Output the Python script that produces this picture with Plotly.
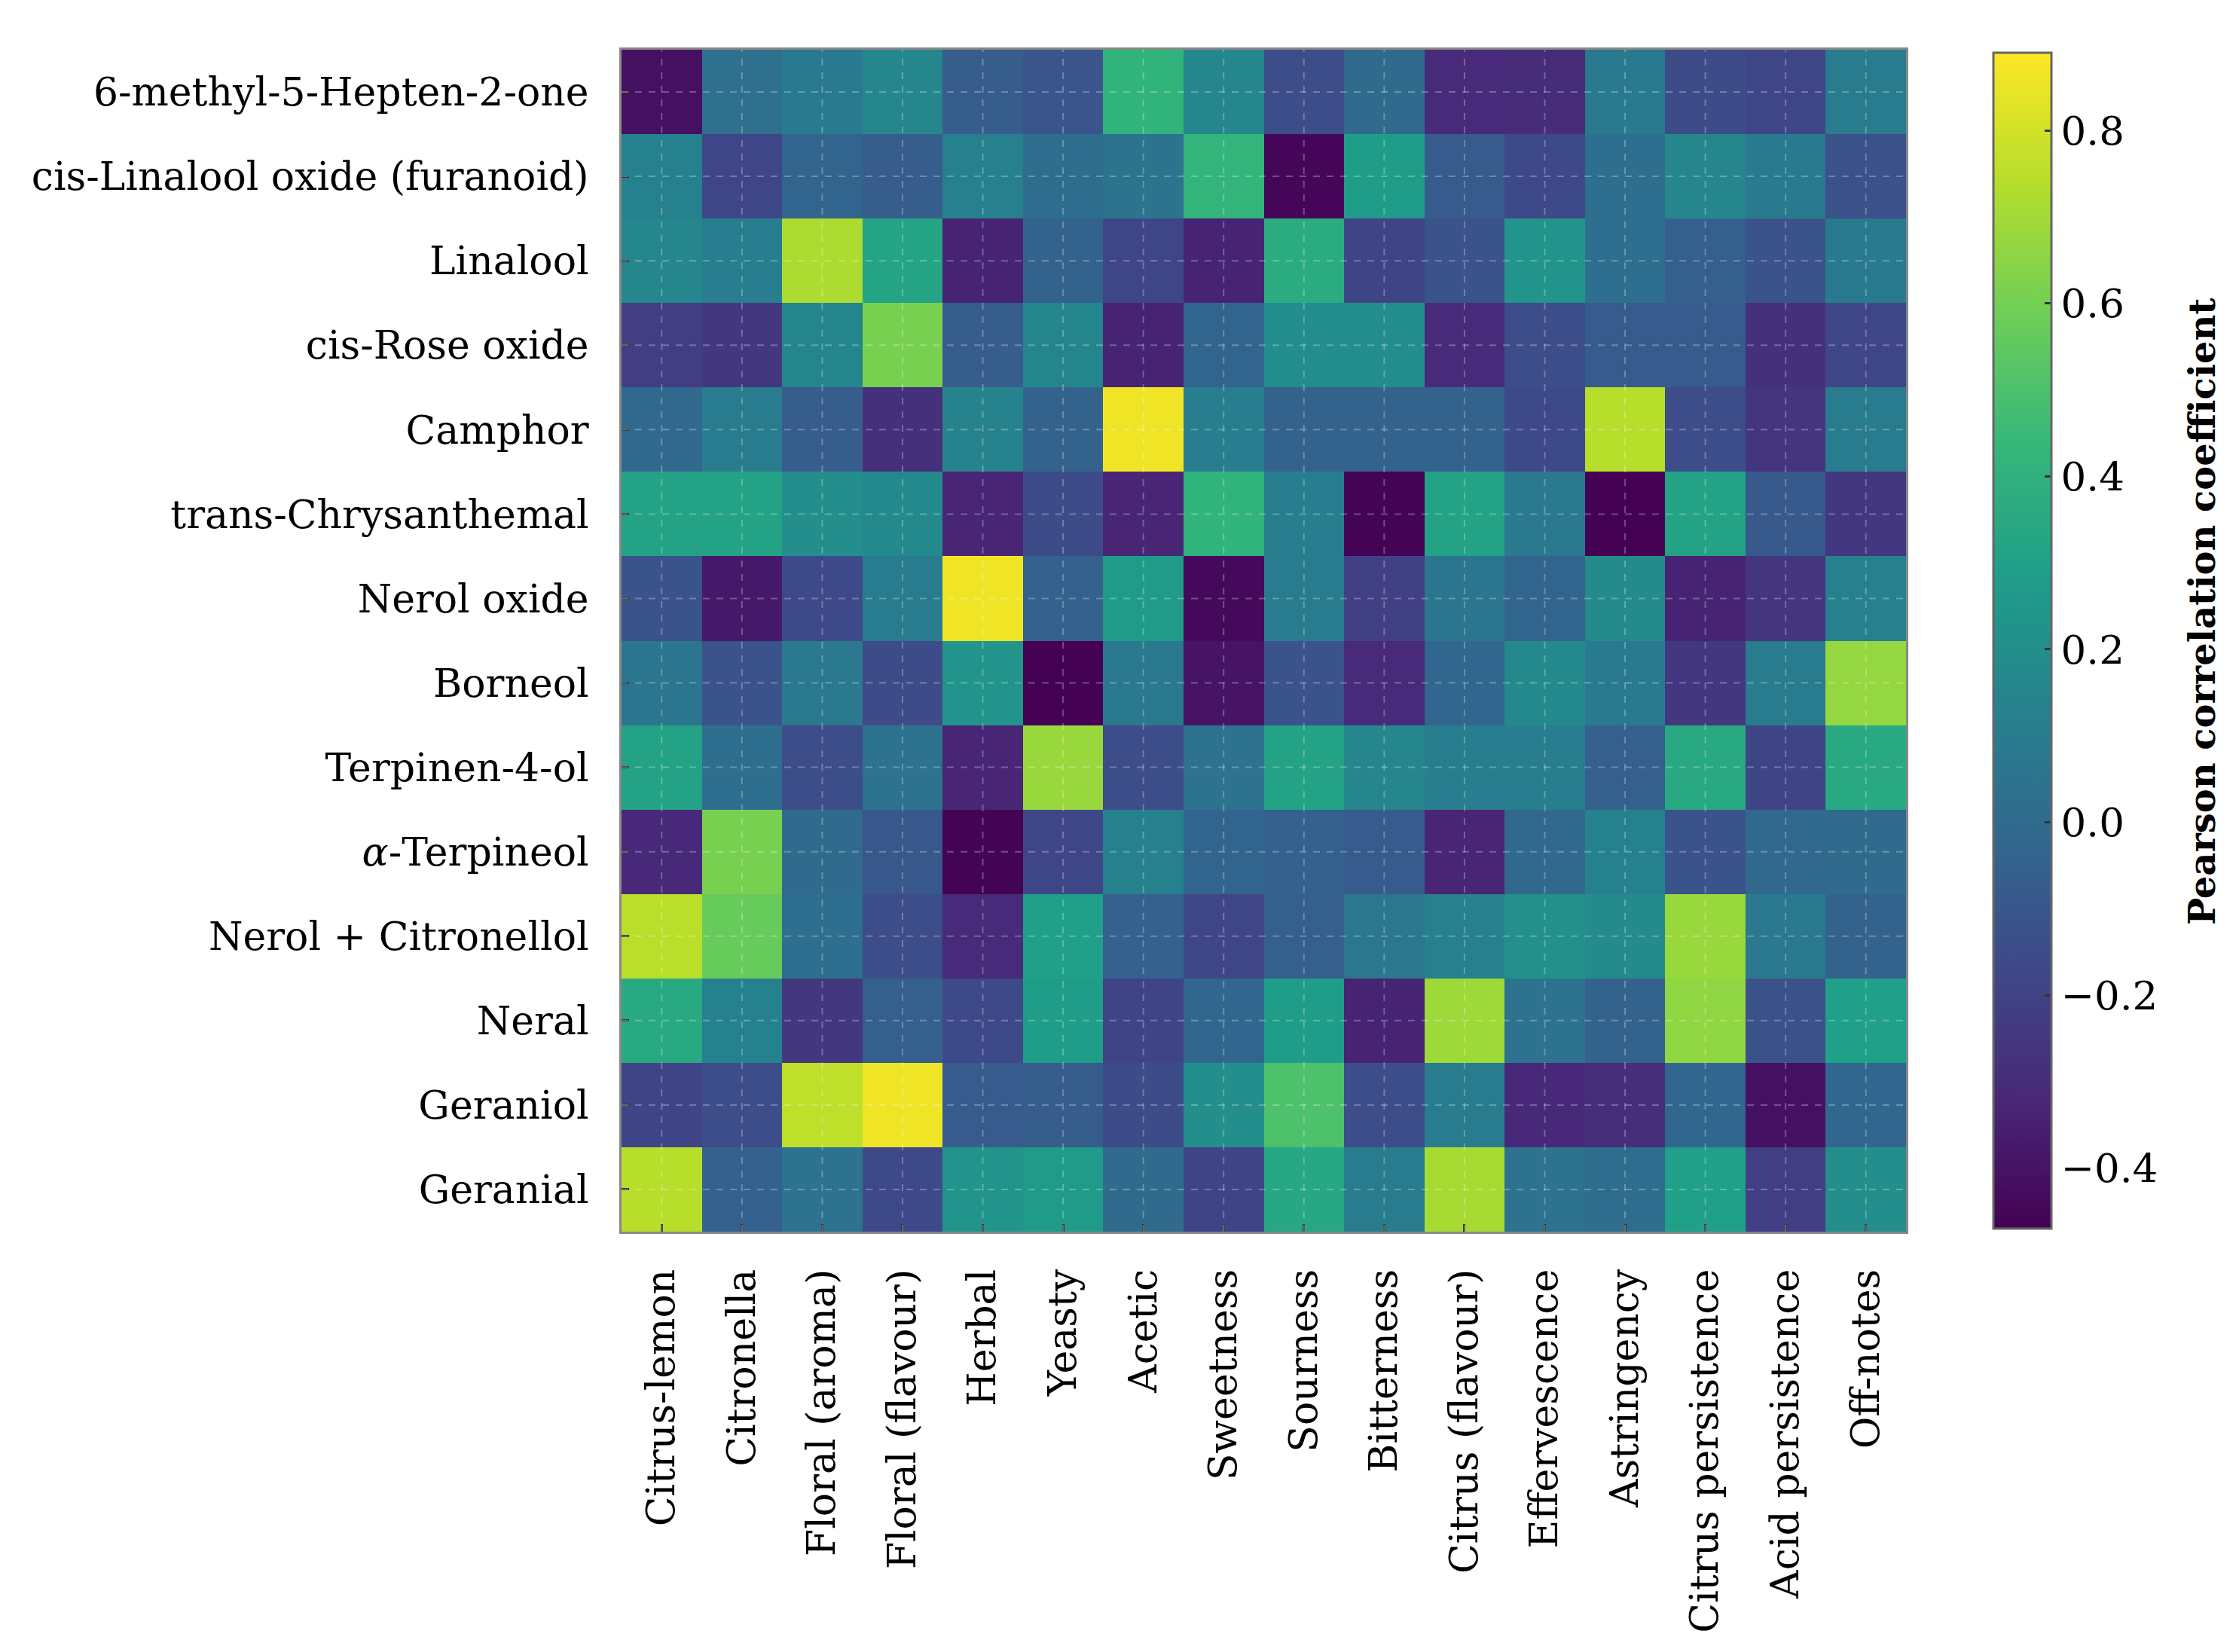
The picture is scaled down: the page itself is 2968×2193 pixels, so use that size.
import plotly.graph_objects as go

compounds = [
    "6-methyl-5-Hepten-2-one",
    "cis-Linalool oxide (furanoid)",
    "Linalool",
    "cis-Rose oxide",
    "Camphor",
    "trans-Chrysanthemal",
    "Nerol oxide",
    "Borneol",
    "Terpinen-4-ol",
    "<i>α</i>-Terpineol",
    "Nerol + Citronellol",
    "Neral",
    "Geraniol",
    "Geranial",
]

attributes = [
    "Citrus-lemon", "Citronella", "Floral (aroma)", "Floral (flavour)",
    "Herbal", "Yeasty", "Acetic", "Sweetness", "Sourness", "Bitterness",
    "Citrus (flavour)", "Effervescence", "Astringency", "Citrus persistence",
    "Acid persistence", "Off-notes",
]

r_methylheptenone = [-0.41, 0.03, 0.09, 0.16, -0.07, -0.11, 0.41, 0.16, -0.15, 0.00, -0.31, -0.30, 0.09, -0.16, -0.18, 0.10]
r_linalool_oxide = [0.13, -0.18, -0.03, -0.07, 0.12, 0.01, 0.05, 0.42, -0.45, 0.28, -0.08, -0.17, 0.02, 0.16, 0.09, -0.13]
r_linalool = [0.16, 0.11, 0.72, 0.32, -0.34, -0.04, -0.18, -0.34, 0.37, -0.19, -0.12, 0.23, 0.02, -0.06, -0.12, 0.09]
r_rose_oxide = [-0.22, -0.25, 0.15, 0.61, -0.07, 0.15, -0.34, -0.03, 0.19, 0.19, -0.31, -0.15, -0.08, -0.08, -0.28, -0.18]
r_camphor = [-0.01, 0.10, -0.07, -0.28, 0.14, -0.04, 0.86, 0.11, -0.04, -0.04, -0.04, -0.17, 0.74, -0.15, -0.26, 0.10]
r_chrysanthemal = [0.31, 0.31, 0.20, 0.17, -0.33, -0.16, -0.33, 0.41, 0.11, -0.46, 0.31, 0.08, -0.47, 0.31, -0.09, -0.25]
r_nerol_oxide = [-0.12, -0.38, -0.17, 0.10, 0.86, -0.05, 0.27, -0.44, 0.10, -0.21, 0.06, -0.03, 0.18, -0.34, -0.26, 0.12]
r_borneol = [0.06, -0.12, 0.08, -0.16, 0.23, -0.47, 0.08, -0.40, -0.12, -0.31, -0.02, 0.17, 0.09, -0.25, 0.10, 0.67]
r_terpinenol = [0.31, 0.02, -0.15, 0.04, -0.33, 0.68, -0.15, 0.04, 0.31, 0.16, 0.11, 0.11, -0.06, 0.35, -0.19, 0.35]
r_terpineol = [-0.32, 0.61, 0.00, -0.10, -0.46, -0.18, 0.12, -0.03, -0.05, -0.08, -0.33, -0.01, 0.13, -0.12, -0.01, 0.00]
r_nerol_citronellol = [0.75, 0.57, 0.02, -0.15, -0.31, 0.29, -0.05, -0.18, -0.06, 0.07, 0.12, 0.21, 0.18, 0.68, 0.08, -0.04]
r_neral = [0.35, 0.13, -0.25, -0.06, -0.17, 0.28, -0.19, -0.02, 0.28, -0.34, 0.69, 0.04, -0.04, 0.66, -0.13, 0.29]
r_geraniol = [-0.19, -0.15, 0.76, 0.86, -0.08, -0.07, -0.16, 0.20, 0.50, -0.15, 0.10, -0.32, -0.29, -0.02, -0.41, -0.02]
r_geranial = [0.74, -0.05, 0.04, -0.17, 0.23, 0.27, 0.00, -0.19, 0.34, 0.10, 0.71, 0.04, 0.01, 0.29, -0.22, 0.20]

z = [
    r_methylheptenone, r_linalool_oxide, r_linalool, r_rose_oxide, r_camphor,
    r_chrysanthemal, r_nerol_oxide, r_borneol, r_terpinenol, r_terpineol,
    r_nerol_citronellol, r_neral, r_geraniol, r_geranial,
]

cbar_ticks = [-0.4, -0.2, 0.0, 0.2, 0.4, 0.6, 0.8]
cbar_labels = ["\u22120.4", "\u22120.2", "0.0", "0.2", "0.4", "0.6", "0.8"]
cbar_title = "Pearson correlation coefficient"

W, H = 2968, 2193
ML, MR, MT, MB = 817, 446, 58, 566
FONT = "DejaVu Serif"
GRID = dict(color="rgba(255,255,255,0.28)", width=2, dash="dash")

fig = go.Figure(go.Heatmap(
    z=z, x=attributes, y=compounds,
    colorscale="Viridis", zmin=-0.47, zmax=0.89,
    colorbar=dict(
        x=1.0622, xanchor="left", xref="paper",
        y=0.5, yanchor="middle", len=1.0076, lenmode="fraction",
        thickness=77, thicknessmode="pixels",
        outlinecolor="#666666", outlinewidth=3,
        tickvals=cbar_ticks, ticktext=cbar_labels,
        ticks="inside", ticklen=10, tickwidth=3, tickcolor="#333333",
        tickfont=dict(family=FONT, size=53, color="black"),
        ticklabelposition="outside",
    ),
))

shapes = []
for a in attributes:
    shapes.append(dict(type="line", xref="x", yref="paper", x0=a, x1=a, y0=0, y1=1,
                       line=GRID, layer="above"))
for c in compounds:
    shapes.append(dict(type="line", xref="paper", yref="y", x0=0, x1=1, y0=c, y1=c,
                       line=GRID, layer="above"))

fig.update_layout(
    width=W, height=H,
    margin=dict(l=ML, r=MR, t=MT, b=MB),
    paper_bgcolor="white", plot_bgcolor="white",
    font=dict(family=FONT, color="black"),
    shapes=shapes,
    annotations=[dict(
        text="<b>" + cbar_title + "</b>", xref="paper", yref="paper",
        x=1.2305, y=0.5245, xanchor="center", yanchor="middle",
        textangle=-90, showarrow=False,
        font=dict(family=FONT, size=48, color="black"),
    )],
)
fig.update_xaxes(
    tickangle=-90, tickfont=dict(family=FONT, size=52, color="black"),
    ticks="inside", ticklen=10, tickwidth=3, tickcolor="#333333",
    ticklabelstandoff=26,
    showline=True, linecolor="#888888", linewidth=3, mirror=True,
    showgrid=False, zeroline=False,
)
fig.update_yaxes(
    autorange="reversed", tickfont=dict(family=FONT, size=52, color="black"),
    ticks="inside", ticklen=10, tickwidth=3, tickcolor="#333333",
    ticklabelstandoff=30,
    showline=True, linecolor="#888888", linewidth=3, mirror=True,
    showgrid=False, zeroline=False,
)

fig.write_html("out.html")
